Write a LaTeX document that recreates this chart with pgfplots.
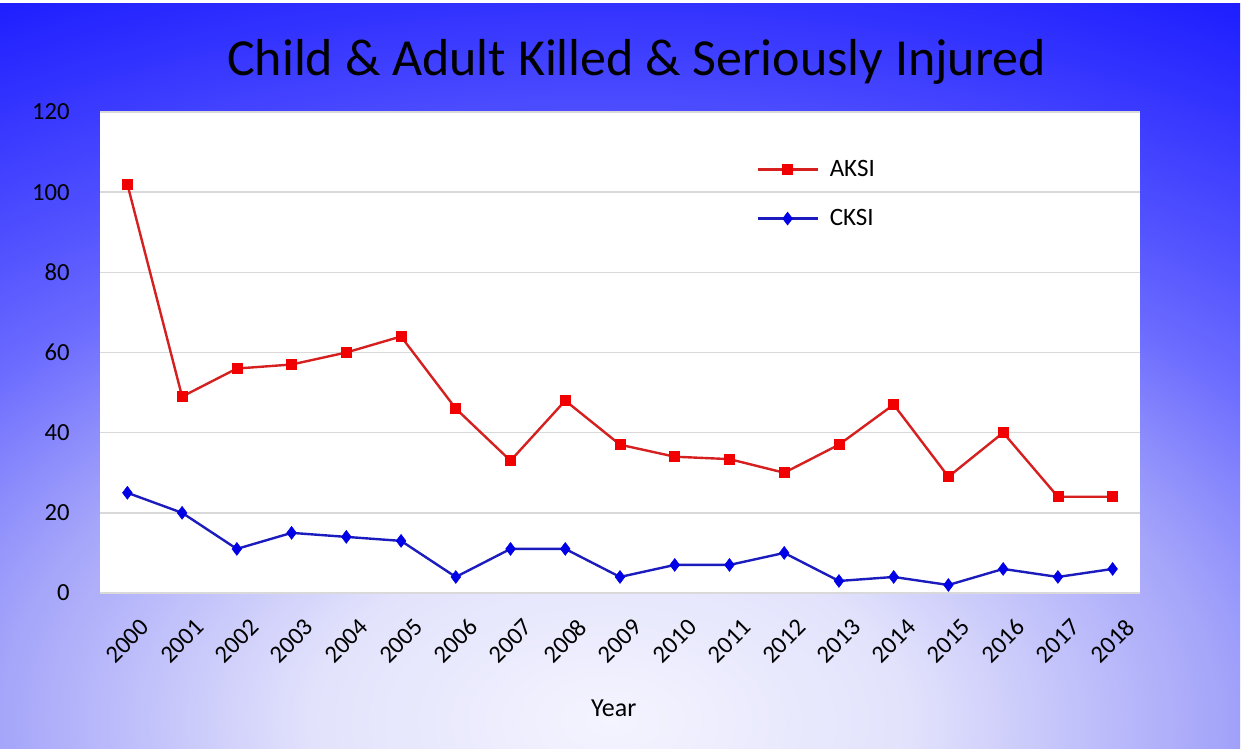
\documentclass[border=0pt]{standalone}
\usepackage{pgfplots}
\pgfplotsset{compat=1.18}
\usepackage{fontspec}
\setmainfont{Carlito}
\definecolor{bg0}{RGB}{244,244,255}
\definecolor{bg1}{RGB}{226,226,252}
\definecolor{bg2}{RGB}{165,165,250}
\definecolor{bg3}{RGB}{108,108,255}
\definecolor{bg4}{RGB}{80,80,255}
\definecolor{bg5}{RGB}{50,50,255}
\definecolor{bg6}{RGB}{30,30,255}
\definecolor{aksiline}{RGB}{214,32,32}
\definecolor{aksimark}{RGB}{240,0,0}
\definecolor{ckline}{RGB}{28,28,190}
\definecolor{ckmark}{RGB}{0,0,230}
\pgfdeclareradialshading{bgshade}{\pgfpoint{0bp}{0bp}}{color(0bp)=(bg0); color(5.59bp)=(bg1); color(11.37bp)=(bg2); color(15.58bp)=(bg3); color(18.56bp)=(bg4); color(22.28bp)=(bg5); color(25bp)=(bg6); color(36bp)=(bg6)}
\pgfplotstableread{
x AKSI CKSI
0 102 25
1 49 20
2 56 11
3 57 15
4 60 14
5 64 13
6 46 4
7 33 11
8 48 11
9 37 4
10 34 7
11 33.4 7
12 30 10
13 37 3
14 47 4
15 29 2
16 40 6
17 24 4
18 24 6
}\datatable
\begin{document}
\begin{tikzpicture}
\useasboundingbox (0,0) rectangle (622.5bp,374.5bp);
\fill[white] (0,0) rectangle (622.5bp,374.5bp);
\begin{scope}
\clip (0,0) rectangle (620bp,372.5bp);
\shade[shading=bgshade] (-366bp,-390bp) rectangle (976bp,418bp);
\end{scope}
\begin{axis}[
  at={(50bp,78bp)}, anchor=south west,
  scale only axis, width=520bp, height=240.5bp,
  xmin=-0.5, xmax=18.5, ymin=0, ymax=120,
  ytick={0,20,40,60,80,100,120},
  xtick={0,1,...,18},
  xticklabels={2000,2001,2002,2003,2004,2005,2006,2007,2008,2009,2010,2011,2012,2013,2014,2015,2016,2017,2018},
  axis background/.style={fill=white},
  axis line style={draw=none},
  major tick length=0pt,
  ymajorgrids, grid style={black!15, line width=0.8bp},
  tick label style={font=\fontsize{12.3bp}{14bp}\selectfont, black},
  /pgf/number format/assume math mode=true,
  yticklabel style={anchor=east, inner sep=0pt, xshift=-15bp},
  xticklabel style={anchor=center, inner sep=0pt, yshift=-24bp, rotate=45},
  xlabel={Year},
  xlabel style={at={(rel axis cs:0.494,0)}, anchor=center, yshift=-57.5bp, font=\fontsize{13bp}{15bp}\selectfont},
  title={Child \& Adult Killed \& Seriously Injured},
  title style={at={(rel axis cs:0.516,1)}, anchor=center, yshift=19bp, font=\fontsize{26bp}{30bp}\selectfont},
  legend style={at={(0.625,0.918)}, anchor=north west, draw=none, fill=none,
    font=\fontsize{12.5bp}{15bp}\selectfont, row sep=11bp},
  legend cell align=left,
  legend image code/.code={\draw[mark repeat=2,mark phase=2] plot coordinates {(0bp,0bp)(15bp,0bp)(30bp,0bp)}; \path (33.5bp,0bp);},
]
\addplot[color=aksiline, line width=1.2bp, mark=square*, mark size=2.5bp, mark options={fill=aksimark, draw=aksimark, line width=0.3bp}] table[x=x, y=AKSI] {\datatable};
\addlegendentry{AKSI}
\addplot[color=ckline, line width=1.2bp, mark=diamond*, mark size=3.2bp, mark options={fill=ckmark, draw=ckmark, line width=0.3bp}] table[x=x, y=CKSI] {\datatable};
\addlegendentry{CKSI}
\end{axis}
\end{tikzpicture}
\end{document}
